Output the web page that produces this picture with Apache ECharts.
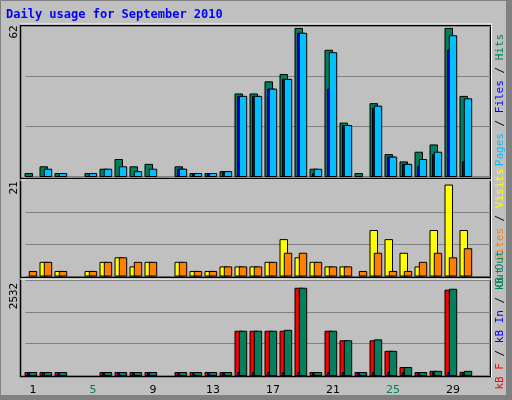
<!DOCTYPE html>
<html><head><meta charset="utf-8">
<script src="https://cdn.jsdelivr.net/npm/echarts@6/dist/echarts.min.js"></script>
<style>html,body{margin:0;padding:0;background:#c0c0c0}#c{width:512px;height:400px}</style>
</head><body><div id="c"></div>
<script>
const days = ['1','2','3','4','5','6','7','8','9','10','11','12','13','14','15','16','17','18','19','20','21','22','23','24','25','26','27','28','29','30','31'];
const weekends = ['4','5','11','12','18','19','25','26'];
const hits  = [1,4,1,0,1,3,7,4,5,0,4,1,1,2,34,34,39,42,61,3,52,22,1,30,9,6,10,13,61,33,0];
const files = [0,3,1,0,1,3,4,2,3,0,3,1,1,2,33,33,36,40,59,3,51,21,0,29,8,5,7,10,58,32,0];
const pages = [0,0,0,0,0,0,0,0,0,0,3,1,1,2,33,33,36,40,59,1,36,21,0,28,8,5,4,9,52,6,0];
const visits = [0,3,1,0,1,3,4,2,3,0,3,1,1,2,2,2,3,8,4,3,2,2,0,10,8,5,2,10,20,10,0];
const sites  = [1,3,1,0,1,3,4,3,3,0,3,1,1,2,2,2,3,5,5,3,2,2,1,5,1,1,3,5,4,6,0];
const kbF   = [20,20,20,0,0,20,20,20,20,0,20,20,20,20,1173,1173,1173,1173,2313,20,1173,920,20,920,641,211,20,110,2262,84,0];
const kbIn  = [5,5,5,0,0,5,5,5,5,0,5,5,5,5,20,20,20,20,20,5,20,20,5,20,20,20,5,20,20,20,0];
const kbOut = [20,20,20,0,0,20,20,20,20,0,20,20,20,20,1173,1173,1173,1198,2313,20,1173,920,20,945,641,211,20,110,2287,110,0];

function barSeries(data, grid, color, x0, x1){
  return {
    type:'custom', xAxisIndex:grid, yAxisIndex:grid,
    data: data.map((v,i)=>[i,v]),
    renderItem:(params, api)=>{
      const v = api.value(1);
      if(!v) return null;
      const top = api.coord([api.value(0), v]);
      const base = api.coord([api.value(0), 0]);
      const h = Math.max(base[1]-top[1], 3);
      return {type:'rect', shape:{x:top[0]+x0, y:base[1]-h, width:x1-x0, height:h},
        style:{fill:color, stroke:'#000', lineWidth:1}};
    }
  };
}
const grids = [
  {left:25.5, width:465, top:26, height:150.5},
  {left:25.5, width:465, top:180.5, height:95.5},
  {left:25.5, width:465, top:280, height:95.5}
];
const maxes = [62,21,2532];
const xAxes = grids.map((g,i)=>({type:'category', gridIndex:i, data:days, boundaryGap:true,
  axisLine:{show:false}, axisTick:{show:false},
  axisLabel: i===2 ? {show:true, margin:9, fontFamily:'DejaVu Sans', fontSize:11,
     formatter:(v)=> weekends.includes(v) ? '{w|'+v+'}' : '{n|'+v+'}',
     rich:{w:{color:'#00805c', fontFamily:'DejaVu Sans', fontSize:11}, n:{color:'#000', fontFamily:'DejaVu Sans', fontSize:11}}} : {show:false}
}));
const yAxes = grids.map((g,i)=>({type:'value', gridIndex:i, min:0, max:maxes[i], interval:maxes[i]/3,
  axisLabel:{show:false}, axisLine:{show:false}, axisTick:{show:false},
  splitLine:{show:true, lineStyle:{color:'#808080', width:1}}}));
const mono = 'DejaVu Sans Mono';
function vtext(x, y, rich, text){
  return {type:'text', x:x, y:y, rotation:Math.PI/2, style:{text:text, rich:rich, font:'11px '+mono, align:'center', verticalAlign:'middle'}};
}
const chart = echarts.init(document.getElementById('c'));
chart.setOption({
  animation:false,
  backgroundColor:'#c0c0c0',
  grid: grids,
  xAxis: xAxes, yAxis: yAxes,
  graphic:[
    {type:'rect', z:-10, shape:{x:0.5,y:0.5,width:510,height:398}, style:{fill:'none', stroke:'#808080', lineWidth:1}},
    {type:'rect', z:-10, shape:{x:506,y:0,width:6,height:400}, style:{fill:'#808080'}},
    {type:'rect', z:-10, shape:{x:0,y:395,width:512,height:5}, style:{fill:'#808080'}},
    {type:'rect', z:-9, shape:{x:20.5,y:25.5,width:470,height:351}, style:{fill:'#c0c0c0', stroke:'#000', lineWidth:1.5}},
    {type:'line', z:100, shape:{x1:20,y1:24,x2:492,y2:24}, style:{stroke:'#fff'}},
    {type:'line', z:100, shape:{x1:491.5,y1:25,x2:491.5,y2:377}, style:{stroke:'#fff'}},
    {type:'line', z:100, shape:{x1:20,y1:178.5,x2:491,y2:178.5}, style:{stroke:'#000', lineWidth:1.5}},
    {type:'line', z:100, shape:{x1:20,y1:180,x2:491,y2:180}, style:{stroke:'#fff'}},
    {type:'line', z:100, shape:{x1:20,y1:277.5,x2:491,y2:277.5}, style:{stroke:'#000', lineWidth:1.5}},
    {type:'line', z:100, shape:{x1:20,y1:279,x2:491,y2:279}, style:{stroke:'#fff'}},
    {type:'text', x:6, y:9, style:{text:'Daily usage for September 2010', font:'bold 12px '+mono, fill:'#0000ff'}},
    vtext(14, 32, {}, '62'),
    vtext(14, 188, {}, '21'),
    vtext(14, 296, {}, '2532'),
    {type:'text', x:500, y:100, rotation:Math.PI/2, style:{text:'{c|Pages} / {b|Files} / {g|Hits}', font:'11px '+mono, fill:'#000', align:'center', verticalAlign:'middle',
      rich:{c:{fill:'#00c0ff', font:'11px '+mono}, b:{fill:'#0000ff', font:'11px '+mono}, g:{fill:'#00805c', font:'11px '+mono}}}},
    {type:'text', x:500, y:228, rotation:Math.PI/2, style:{text:'{g|Out} {o|Sites} / {y|Visits}', font:'11px '+mono, fill:'#000', align:'center', verticalAlign:'middle',
      rich:{g:{fill:'#00805c', font:'11px '+mono}, o:{fill:'#ff8000', font:'11px '+mono}, y:{fill:'#ffff00', font:'11px '+mono}}}},
    {type:'text', x:500, y:320, rotation:Math.PI/2, style:{text:'{r|kB F} / {b|kB In} / {g|kB Out}', font:'11px '+mono, fill:'#000', align:'center', verticalAlign:'middle',
      rich:{r:{fill:'#ff0000', font:'11px '+mono}, b:{fill:'#0000ff', font:'11px '+mono}, g:{fill:'#00805c', font:'11px '+mono}}}}
  ],
  series:[
    barSeries(hits, 0, '#00805c', -8, -0.5),
    barSeries(pages, 0, '#0000ff', -5.5, 2),
    barSeries(files, 0, '#00c0ff', -3.7, 3.7),
    barSeries(visits, 1, '#ffff00', -8, -0.5),
    barSeries(sites, 1, '#ff8000', -3.7, 3.7),
    barSeries(kbF, 2, '#ff0000', -8, -0.5),
    barSeries(kbIn, 2, '#0000ff', -5.5, 2),
    barSeries(kbOut, 2, '#00805c', -3.7, 3.7)
  ]
});
</script></body></html>
